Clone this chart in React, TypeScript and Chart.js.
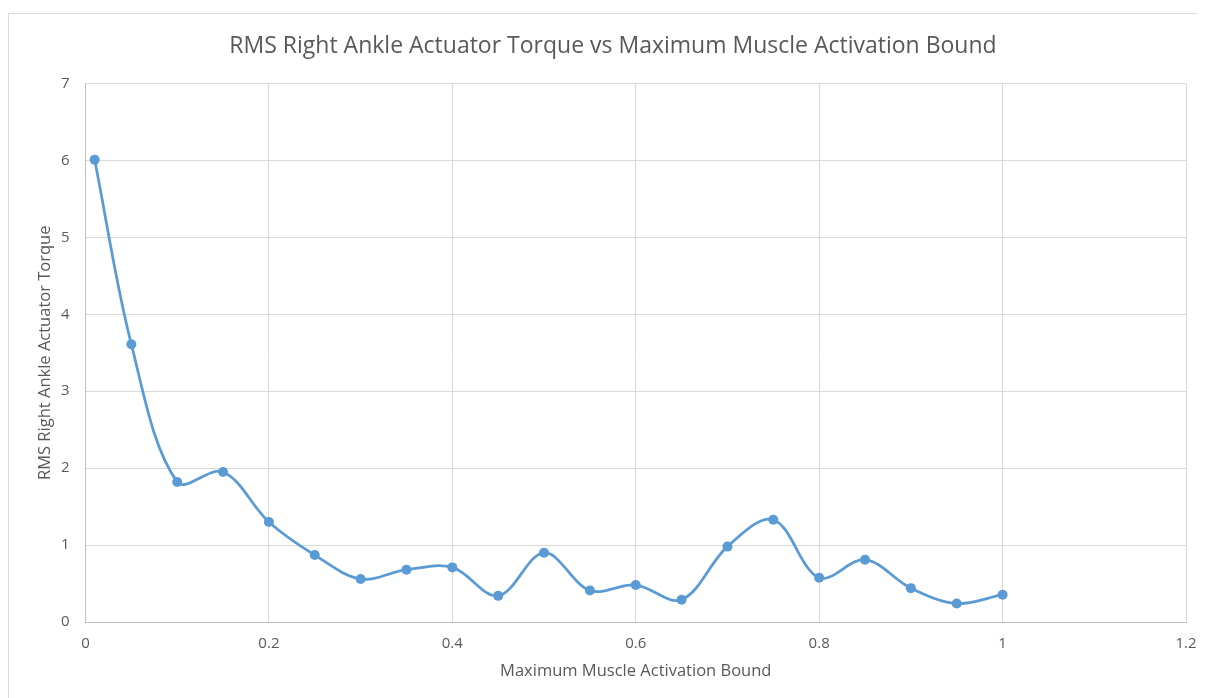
import React, { useEffect, useRef } from "react";
import { Chart, registerables } from "chart.js";

Chart.register(...registerables);

const xValues = [0.01, 0.05, 0.1, 0.15, 0.2, 0.25, 0.3, 0.35, 0.4, 0.45, 0.5, 0.55, 0.6, 0.65, 0.7, 0.75, 0.8, 0.85, 0.9, 0.95, 1.0];
const torque = [6.01, 3.61, 1.82, 1.95, 1.3, 0.87, 0.56, 0.68, 0.71, 0.34, 0.9, 0.41, 0.48, 0.29, 0.98, 1.33, 0.575, 0.81, 0.44, 0.24, 0.355];

const titleText = "RMS Right Ankle Actuator Torque vs Maximum Muscle Activation Bound";
const xTitle = "Maximum Muscle Activation Bound";
const yTitle = "RMS Right Ankle Actuator Torque";

const FONT = "'Open Sans', sans-serif";
const TEXT = "#595959";
const GRID = "#d9d9d9";
const LINE = "#5b9bd5";

export default function App() {
  const ref = useRef<HTMLCanvasElement>(null);
  useEffect(() => {
    if (!ref.current) return;
    const chart = new Chart(ref.current, {
      type: "scatter",
      data: {
        datasets: [
          {
            data: xValues.map((x, i) => ({ x, y: torque[i] })),
            showLine: true,
            borderColor: LINE,
            backgroundColor: LINE,
            borderWidth: 2.75,
            pointRadius: 5,
            pointBorderWidth: 0,
            tension: 0.35,
          },
        ],
      },
      options: {
        responsive: false,
        animation: false,
        layout: { padding: { left: 32, right: 32, top: 0, bottom: 0 } },
        plugins: {
          legend: { display: false },
          tooltip: { enabled: false },
          title: {
            display: true,
            text: titleText,
            color: TEXT,
            font: { family: FONT, size: 23, weight: "normal", lineHeight: 1.2 },
            padding: { top: 24.5, bottom: 23.4 },
          },
        },
        scales: {
          x: {
            type: "linear",
            min: 0,
            max: 1.2,
            ticks: {
              stepSize: 0.2,
              color: TEXT,
              font: { family: FONT, size: 15 },
              padding: 13,
              maxRotation: 0,
              callback: (v: any) => String(Number(Number(v).toFixed(1))),
            },
            grid: { color: GRID, lineWidth: 1, drawTicks: false },
            border: { color: "#bfbfbf", width: 1 },
            title: {
              display: true,
              text: xTitle,
              color: TEXT,
              font: { family: FONT, size: 16.5, lineHeight: 1.2 },
              padding: { top: 0, bottom: 17 },
            },
            afterFit: (s: any) => {
              s.height = 76;
            },
          },
          y: {
            type: "linear",
            min: 0,
            max: 7,
            ticks: {
              stepSize: 1,
              color: TEXT,
              font: { family: FONT, size: 15 },
              padding: 16,
            },
            grid: { color: GRID, lineWidth: 1, drawTicks: false },
            border: { color: "#bfbfbf", width: 1 },
            title: {
              display: true,
              text: yTitle,
              color: TEXT,
              font: { family: FONT, size: 16.5, lineHeight: 1.2 },
              padding: { top: -5, bottom: 0 },
            },
            afterFit: (s: any) => {
              s.width = 45.5;
            },
          },
        },
      },
    });
    return () => chart.destroy();
  }, []);

  return (
    <div style={{ position: "relative", width: 1197, height: 690, overflow: "hidden", background: "#fff" }}>
      <div
        style={{
          position: "absolute",
          left: 0,
          top: 5,
          width: 1300,
          height: 800,
          border: "1px solid #d9d9d9",
          boxSizing: "border-box",
        }}
      />
      <canvas ref={ref} width={1210} height={690} style={{ position: "absolute", left: 0, top: 0, width: 1210, height: 690 }} />
    </div>
  );
}
